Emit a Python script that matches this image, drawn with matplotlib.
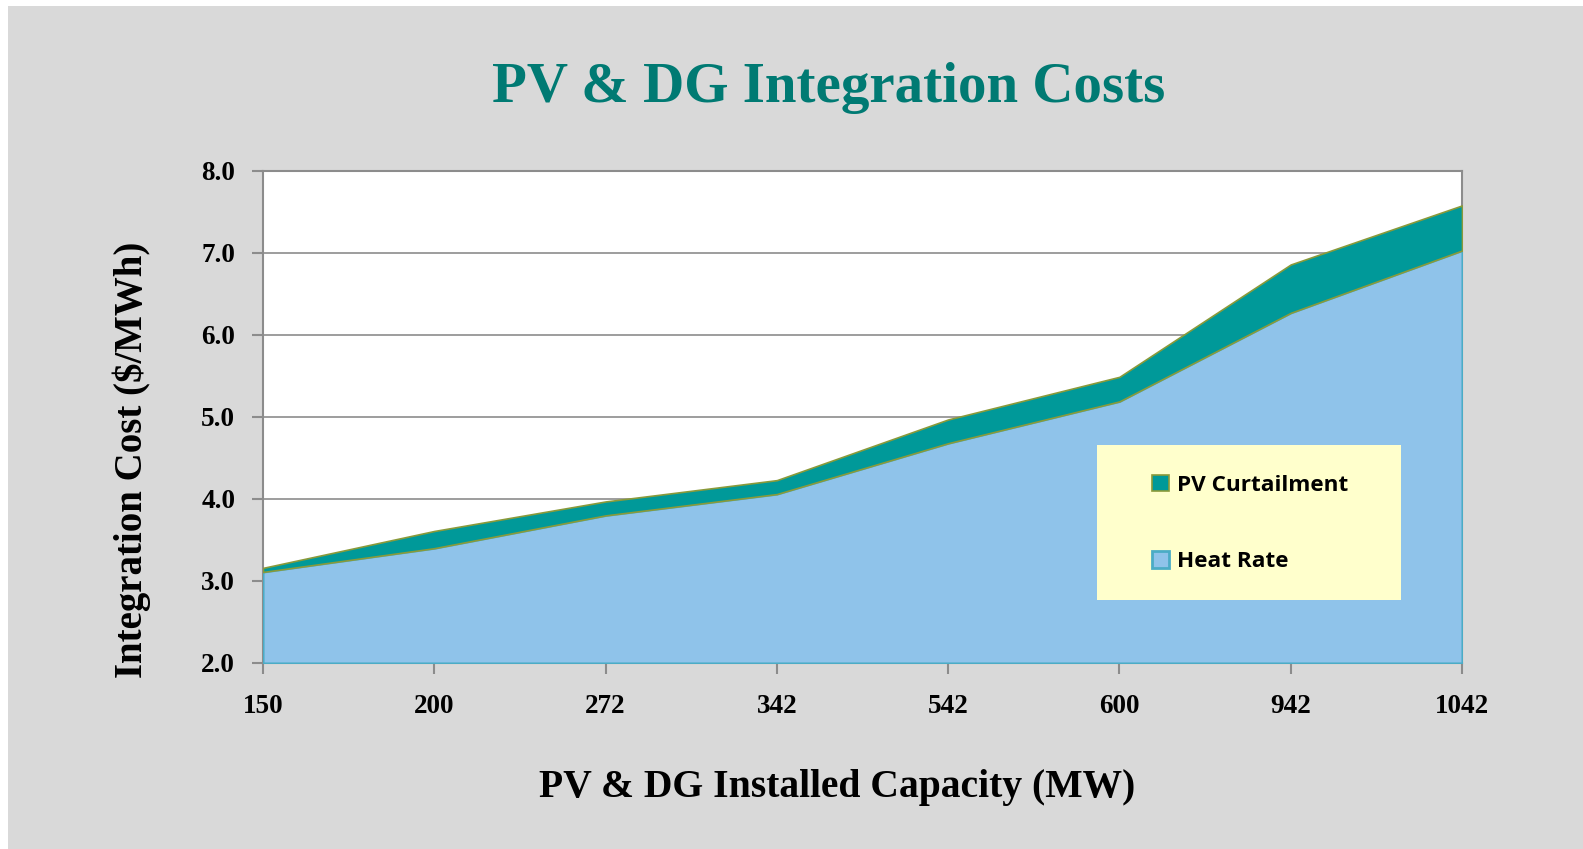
import matplotlib.pyplot as plt
from matplotlib.patches import Rectangle, Patch
import numpy as np

# Data
capacity = ['150', '200', '272', '342', '542', '600', '942', '1042']
heat_rate = [3.11, 3.40, 3.80, 4.06, 4.68, 5.19, 6.27, 7.03]
curtailment = [0.05, 0.21, 0.17, 0.17, 0.29, 0.30, 0.59, 0.55]
y_ticks = [2.0, 3.0, 4.0, 5.0, 6.0, 7.0, 8.0]

x = np.arange(len(capacity))
heat = np.array(heat_rate)
total = heat + np.array(curtailment)

serif = 'Liberation Serif'
teal = '#009999'
blue = '#8fc3ea'
W, H = 1583, 849

fig = plt.figure(figsize=(W / 100, H / 100), dpi=100)
fig.patch.set_facecolor('white')
# gray panel behind everything (small white margin top-left)
fig.patches.append(Rectangle((8 / W, 0), 1, 1 - 6 / H, transform=fig.transFigure,
                             facecolor='#d9d9d9', edgecolor='none', zorder=-10))

ax_l, ax_r, ax_t, ax_b = 263, 1462, 171, 663
ax = fig.add_axes([ax_l / W, 1 - ax_b / H, (ax_r - ax_l) / W, (ax_b - ax_t) / H])
ax.set_facecolor('white')

ax.fill_between(x, 2.0, heat, facecolor=blue, edgecolor='#4bacc6', linewidth=1.5, zorder=3)
ax.fill_between(x, heat, total, facecolor=teal, edgecolor='#8a9a3a', linewidth=1.2, zorder=3)

ax.set_xlim(0, len(capacity) - 1)
ax.set_ylim(2.0, 8.0)
ax.set_xticks(x)
ax.set_xticklabels(capacity)
ax.set_yticks(y_ticks)
ax.set_yticklabels([f'{v:.1f}' for v in y_ticks])
ax.grid(axis='y', color='#8c8c8c', linewidth=1.2, zorder=1)
for s in ax.spines.values():
    s.set_color('#8c8c8c')
    s.set_linewidth(1.5)
ax.tick_params(axis='both', direction='out', length=8, width=1.5, color='#8c8c8c')
ax.tick_params(axis='x', pad=14)
ax.tick_params(axis='y', pad=12)
for lab in ax.get_xticklabels() + ax.get_yticklabels():
    lab.set_fontfamily(serif)
    lab.set_fontweight('bold')
    lab.set_fontsize(19.5)


def ax_coords(px, py):
    return (px - ax_l) / (ax_r - ax_l), (ax_b - py) / (ax_b - ax_t)


ax.set_xlabel('PV & DG Installed Capacity (MW)', fontfamily=serif, fontweight='bold',
              fontsize=28.5)
ax.xaxis.set_label_coords(*ax_coords(837, 787))
ax.xaxis.label.set_va('center')
ax.set_ylabel('Integration Cost ($/MWh)', fontfamily=serif, fontweight='bold',
              fontsize=28)
ax.yaxis.set_label_coords(*ax_coords(132, 460))
ax.yaxis.label.set_va('center')

fig.text(829 / W, 1 - 88 / H, 'PV & DG Integration Costs', ha='center', va='center',
         fontfamily=serif, fontweight='bold', fontsize=41, color='#007a73')

# legend box
bx0, by0 = ax_coords(1097, 600)
bx1, by1 = ax_coords(1401, 445)
ax.add_patch(Rectangle((bx0, by0), bx1 - bx0, by1 - by0, transform=ax.transAxes,
                       facecolor='#ffffcc', edgecolor='none', zorder=4))
handles = [Patch(facecolor=teal, edgecolor='#8a9a3a', linewidth=1.2),
           Patch(facecolor=blue, edgecolor='#4bacc6', linewidth=2)]
leg = ax.legend(handles, ['PV Curtailment', 'Heat Rate'], loc='upper left',
                bbox_to_anchor=ax_coords(1152, 475), frameon=False,
                handlelength=0.75, handleheight=0.75, handletextpad=0.35,
                labelspacing=2.45, borderpad=0, borderaxespad=0,
                prop={'family': 'Open Sans', 'weight': 'bold', 'size': 16.2})
leg.set_zorder(5)

fig.savefig('out.png', dpi=100, facecolor=fig.get_facecolor())
